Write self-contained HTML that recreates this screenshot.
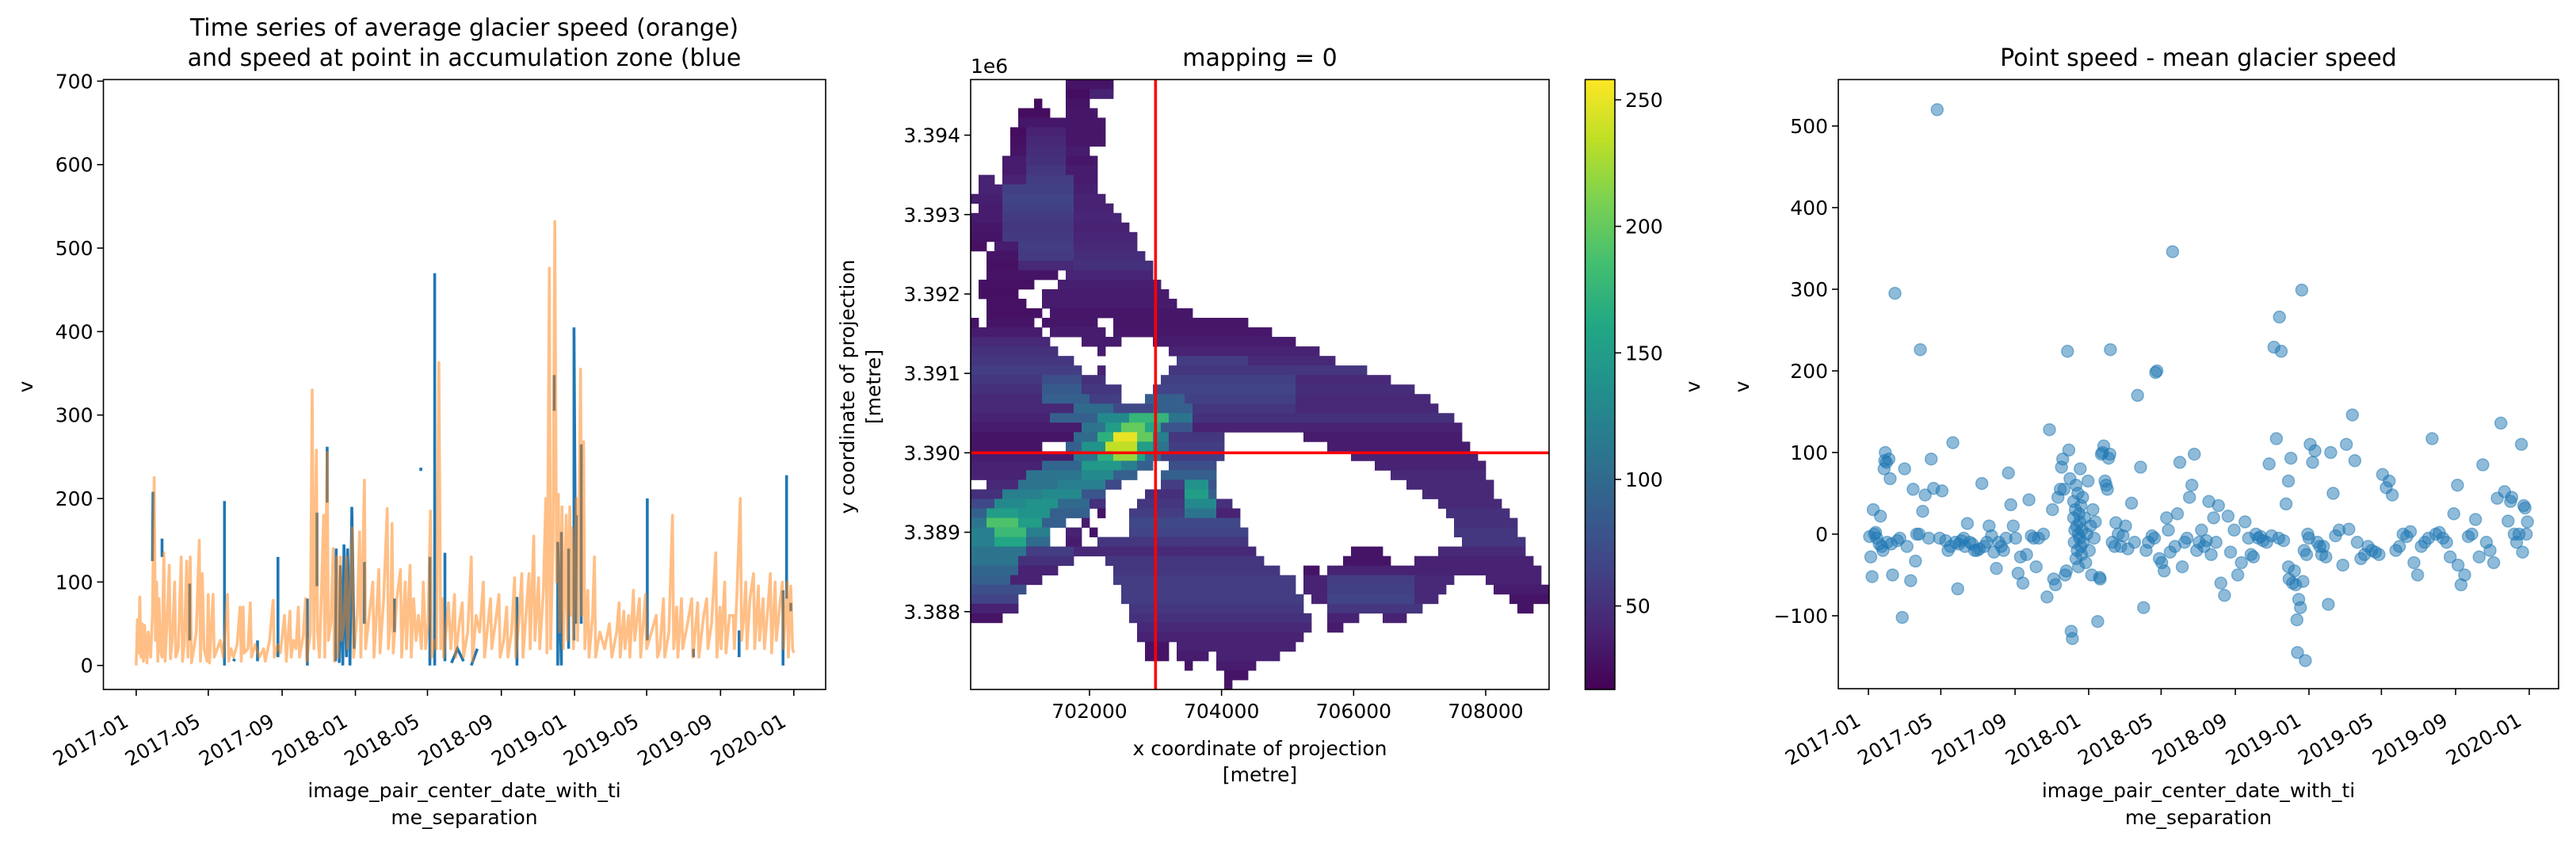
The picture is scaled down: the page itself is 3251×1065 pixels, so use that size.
<!DOCTYPE html>
<html><head><meta charset="utf-8"><style>
html,body{margin:0;padding:0;background:#fff}
svg{display:block;font-family:"DejaVu Sans","Liberation Sans",sans-serif}
</style></head><body>
<svg id="fig" xmlns="http://www.w3.org/2000/svg" width="3251" height="1065" viewBox="0 0 3251 1065">
<rect width="3251" height="1065" fill="#fff"/>
<g id="p1"></g>
<g id="p2"></g>
<g id="p3"></g>
</svg>
<script>
// ---------- data ----------
const dateTickLabels = ["2017-01","2017-05","2017-09","2018-01","2018-05","2018-09","2019-01","2019-05","2019-09","2020-01"];
const dateTickDays = [0,120,243,365,485,608,730,850,973,1095];
const p1YTicks = [0,100,200,300,400,500,600,700];
const orangeDays = [0,2,4,6,8,10,12,14,16,18,20,24,27,30,32,34,36,38,40,43,46,48,52,55,57,60,64,66,70,75,77,80,84,86,90,92,96,100,105,107,110,113,118,120,122,128,130,135,140,145,152,154,158,162,168,173,175,178,180,186,190,192,198,205,212,215,222,228,230,236,240,247,250,256,258,262,266,270,272,278,282,284,290,293,296,300,302,305,309,312,314,318,320,324,328,330,334,336,340,342,346,350,352,356,360,362,368,372,374,380,382,388,394,396,400,404,406,412,418,420,424,426,428,434,440,442,448,450,456,458,462,466,470,475,478,482,486,490,492,497,500,504,507,510,512,520,524,530,532,538,543,545,552,558,560,566,572,578,580,590,592,598,604,606,612,617,619,625,630,632,638,642,644,650,654,656,662,664,670,672,678,682,684,688,690,694,697,700,703,705,709,711,716,718,722,724,726,728,733,735,740,742,745,747,752,754,760,763,765,772,780,788,792,800,804,806,812,814,820,822,828,830,838,840,848,850,858,866,868,872,878,880,887,893,895,900,902,908,910,918,925,927,935,937,945,950,952,958,965,967,972,974,980,982,988,994,996,1000,1006,1008,1012,1015,1017,1022,1028,1030,1036,1038,1044,1046,1052,1056,1058,1064,1066,1072,1076,1078,1084,1086,1090,1093,1095];
const orangeVals = [0,55,15,82,10,50,5,48,20,3,40,10,60,225,30,100,5,80,20,10,135,5,60,120,8,30,100,10,20,130,5,25,125,10,130,3,20,40,150,5,110,20,5,85,3,85,10,20,30,10,85,5,20,10,25,70,5,70,15,20,75,10,25,10,20,5,30,78,10,25,15,60,5,65,10,30,20,70,10,35,80,5,40,330,20,258,40,10,100,180,10,255,30,50,140,5,130,10,130,30,50,130,20,90,165,10,60,160,10,222,20,60,100,10,60,115,15,80,188,20,60,170,15,80,115,10,100,20,120,10,80,30,60,20,100,20,50,185,10,30,20,363,20,80,10,75,20,85,10,50,75,10,40,130,5,60,40,100,10,80,20,50,85,10,30,70,10,40,105,10,60,110,10,70,110,20,155,30,105,20,90,200,15,476,20,150,532,100,205,40,190,20,180,30,190,60,165,20,200,30,355,60,268,20,90,10,60,130,10,40,20,50,10,40,75,10,65,20,60,10,90,30,80,10,85,20,40,60,10,20,80,10,40,180,20,70,10,80,20,50,80,10,75,10,60,80,20,50,135,10,70,20,100,15,60,60,20,80,200,30,60,100,20,80,110,20,95,30,80,20,70,110,15,100,30,75,100,20,100,10,95,20,15];
const blueDays = [27,28,null,43,43,null,89,89,null,147,147,null,162,164,null,202,202,null,236,236,null,285,285,null,301,301,null,318,318,null,332,333,null,338,340,344,346,350,352,356,359,363,null,380,380,null,430,430,null,474,474,null,489,489,null,497,497,null,514,514,null,525,535,545,null,558,568,null,634,634,null,696,696,null,702,702,708,708,null,720,720,null,729,729,732,733,null,741,741,null,851,851,null,928,928,null,1004,1004,null,1077,1077,null,1083,1083,null,1090,1090];
const blueVals = [125,208,null,130,152,null,30,98,null,0,197,null,5,8,null,5,30,null,10,130,null,0,80,null,95,183,null,195,262,null,5,140,null,3,120,0,145,10,140,0,190,20,null,50,124,null,40,80,null,233,237,null,0,130,null,0,470,null,5,135,null,3,20,5,null,0,20,null,0,82,null,305,348,null,0,148,0,160,null,20,140,null,30,405,50,180,null,50,265,null,30,200,null,10,20,null,10,42,null,0,90,null,80,228,null,65,75];

const hmXTicks = [702000,704000,706000,708000];
const hmYTicks = [3.388,3.389,3.390,3.391,3.392,3.393,3.394];
const cbTicks = [50,100,150,200,250];
const pointX = 703000, pointY = 3390000;
const hmRows = [
[[12,17,30]],[[12,14,25],[15,17,40]],[[8,8,25],[12,14,30]],[[6,9,25],[12,15,32]],[[6,16,32]],
[[5,6,25],[7,11,40],[12,16,32]],[[5,6,28],[7,11,45],[12,16,32]],[[5,6,30],[7,11,48],[12,14,35]],
[[4,6,35],[7,11,50],[12,15,32]],[[4,6,35],[7,11,55],[12,15,35]],[[1,2,40],[4,6,40],[7,12,60],[13,15,35]],
[[1,3,40],[4,12,62],[13,15,38]],[[0,3,38],[4,12,65],[13,16,40]],[[1,3,35],[4,12,62],[13,17,40]],
[[0,3,35],[4,12,58],[13,18,42]],[[0,3,32],[4,12,55],[13,19,40]],[[0,3,30],[4,12,58],[13,20,42]],
[[0,1,28],[3,5,35],[6,12,60],[13,20,45]],[[2,5,30],[6,12,58],[13,21,48]],[[2,5,28],[6,12,45],[13,22,50]],
[[2,10,30],[12,22,42]],[[1,7,28],[11,23,38]],[[1,5,28],[9,24,35]],[[2,6,28],[9,25,35]],[[2,8,28],[10,27,32]],
[[0,0,30],[2,7,30],[9,15,32],[18,34,32]],[[0,8,35],[10,16,35],[18,37,33]],[[0,9,45],[14,18,35],[23,40,35]],
[[0,10,50],[16,16,35],[25,43,40]],[[0,12,55],[26,34,60],[35,45,45]],[[0,13,60],[16,16,40],[25,49,55]],
[[0,8,55],[9,13,75],[14,16,50],[24,40,62],[41,52,45]],[[0,8,50],[9,13,85],[14,18,55],[23,40,65],[41,55,48]],
[[0,8,45],[9,14,90],[15,18,60],[22,26,90],[27,40,62],[41,57,45]],
[[0,12,45],[13,17,100],[18,22,70],[23,27,90],[28,40,55],[41,58,45]],
[[0,9,40],[10,15,90],[16,19,130],[20,24,175],[25,27,110],[28,60,50]],
[[0,13,35],[14,16,110],[17,18,150],[19,21,200],[22,23,160],[24,27,80],[28,61,40]],
[[0,12,30],[13,15,100],[16,17,170],[18,20,250],[21,22,200],[23,24,120],[25,31,55],[42,61,35]],
[[0,8,30],[12,13,90],[14,16,140],[17,20,235],[21,22,150],[23,24,110],[25,31,60],[45,62,35]],
[[0,12,35],[13,15,110],[16,17,170],[18,20,220],[21,21,160],[22,23,100],[24,31,60],[48,63,40]],
[[0,8,40],[9,13,95],[14,18,145],[19,20,120],[21,22,90],[25,30,75],[51,64,40]],
[[0,6,40],[7,13,110],[14,17,130],[18,20,90],[24,30,90],[53,64,45]],
[[2,5,45],[6,10,110],[11,16,120],[17,18,70],[24,26,60],[27,29,140],[30,30,80],[55,65,45]],
[[0,3,50],[4,8,120],[9,13,130],[14,16,80],[22,26,50],[27,29,150],[30,30,90],[57,65,45]],
[[0,2,70],[3,6,130],[7,10,140],[11,14,100],[15,16,50],[21,26,55],[27,30,130],[31,32,50],[59,66,45]],
[[0,1,90],[2,5,150],[6,9,140],[10,14,90],[16,16,30],[20,26,60],[27,30,110],[31,33,40],[60,67,50]],
[[0,1,110],[2,5,190],[6,8,150],[9,11,90],[14,14,35],[20,33,70],[61,68,50]],
[[0,2,120],[3,6,180],[7,9,120],[12,13,40],[15,15,30],[20,34,65],[61,68,55]],
[[0,2,120],[3,6,160],[7,9,100],[12,13,35],[16,34,55],[62,69,55]],
[[0,6,110],[7,12,60],[13,35,45],[48,51,30],[59,69,45]],
[[0,5,110],[6,12,50],[17,36,55],[47,52,30],[56,70,40]],
[[0,5,95],[6,10,40],[18,38,55],[42,43,30],[45,71,40]],
[[0,4,90],[5,8,40],[18,40,60],[42,44,40],[45,55,60],[56,60,45],[65,71,40]],
[[0,6,75],[19,40,60],[42,44,40],[45,55,62],[56,59,45],[66,72,35]],
[[0,5,65],[19,41,60],[43,44,40],[45,55,65],[56,58,45],[68,72,30]],
[[0,5,40],[20,41,55],[45,56,55],[69,70,30]],
[[0,3,30],[20,42,50],[45,48,40],[52,54,40]],
[[21,42,45],[45,46,35]],[[21,41,40]],[[22,24,30],[26,40,40]],[[22,24,30],[26,29,35],[31,38,40]],
[[27,27,30],[31,35,35]],[[32,34,30]],[[32,32,30]]
];

const p3YTicks = [-100,0,100,200,300,400,500];
const scatterDays = [2,4,6,8,10,12,14,18,20,22,24,26,27,28,30,31,34,36,38,40,44,48,52,56,60,64,70,74,78,80,84,86,90,94,100,104,108,114,118,122,128,132,136,140,144,148,150,154,158,160,164,168,172,176,180,184,188,192,196,200,204,208,212,216,220,224,228,232,236,240,244,248,252,256,262,266,270,274,278,282,290,296,300,305,307,310,314,318,320,322,324,326,328,330,332,334,336,338,340,340,341,342,343,344,344,345,346,347,348,348,349,350,350,351,352,352,353,354,355,356,358,360,362,364,366,368,370,372,374,376,380,383,384,386,388,390,392,394,396,398,400,401,404,408,410,414,418,422,426,430,436,441,446,451,456,460,464,470,474,476,478,482,486,490,494,497,500,504,508,512,516,520,524,528,532,536,540,544,548,552,556,560,564,568,572,576,580,584,590,596,600,606,612,618,624,630,634,638,642,646,650,654,660,664,668,672,676,680,681,684,688,692,696,696,697,700,703,706,708,710,711,713,716,718,720,722,724,726,728,730,732,736,740,744,748,751,754,758,762,766,770,774,780,786,792,796,802,806,810,816,822,828,834,840,846,852,858,863,868,874,880,886,892,898,904,910,916,922,928,934,940,946,952,958,964,970,976,977,982,988,994,1000,1006,1012,1018,1024,1030,1036,1042,1048,1054,1060,1064,1066,1070,1074,1078,1082,1084,1086,1088,1090,1092,1094];
const scatterVals = [-3,-28,-52,30,0,2,-5,-12,22,-15,-20,80,90,100,88,-10,92,68,-12,-50,295,-8,-5,-102,80,-15,-57,55,-33,0,0,226,28,48,-5,92,56,520,-5,53,-8,-20,-15,112,-10,-67,-12,-8,-5,-15,13,-10,-12,-20,-20,-18,62,-15,-10,10,-2,-22,-42,-10,-15,-20,-5,75,36,10,-5,-48,-28,-60,-25,42,-2,-5,-40,-5,0,-77,128,30,-55,-62,45,55,82,92,55,-50,-45,224,103,68,-119,-128,40,20,-10,5,30,-30,60,10,-20,50,0,-40,25,-5,15,80,-15,35,-25,5,45,-10,20,-35,0,65,-20,10,-50,30,-5,15,-107,-53,-55,98,100,108,65,60,55,93,98,226,-10,-15,14,0,-15,-2,10,-18,38,-10,170,82,-90,-20,-10,-2,-5,198,200,-30,-35,-45,20,5,-22,346,-15,25,88,-40,-10,-5,45,60,98,-20,-10,5,-15,-8,40,-25,20,-10,35,-60,-75,22,-22,5,-50,-35,15,-5,-25,-28,0,-5,-3,-8,-10,86,-2,229,117,-5,266,224,-8,37,-40,65,-55,93,-60,-45,-62,-105,-145,-80,-90,299,-58,-20,-155,-25,0,-5,110,88,102,-10,-15,-25,-15,-28,-86,100,50,-2,5,-38,110,6,146,90,-10,-30,-25,-15,-20,-22,-25,73,57,65,48,-20,-15,0,-3,3,-35,-50,-15,-10,-5,117,0,2,-5,-10,-28,25,60,-38,-62,-50,-3,0,18,-28,85,-10,-20,-35,44,136,52,16,40,45,0,-10,0,110,-22,35,32,0,15];

// ---------- helpers ----------
const NS = "http://www.w3.org/2000/svg";
function el(parent, tag, attrs, text){
  const e = document.createElementNS(NS, tag);
  for (const k in attrs) e.setAttribute(k, attrs[k]);
  if (text !== undefined) e.textContent = text;
  parent.appendChild(e);
  return e;
}
function lin(d0,d1,r0,r1){ return v => r0 + (v-d0)*(r1-r0)/(d1-d0); }
const TICKFONT = 25, TITLEFONT = 30;
const viridis = [[0,68,1,84],[0.1,72,36,117],[0.2,65,68,135],[0.3,53,95,141],[0.4,42,120,142],[0.5,33,145,140],[0.6,34,168,132],[0.7,68,191,112],[0.8,122,209,81],[0.9,189,223,38],[1,253,231,37]];
function vcol(t){
  t = Math.max(0, Math.min(1, t));
  for (let i=1;i<viridis.length;i++){
    if (t <= viridis[i][0]){
      const a = viridis[i-1], b = viridis[i], f = (t-a[0])/(b[0]-a[0]);
      return `rgb(${Math.round(a[1]+f*(b[1]-a[1]))},${Math.round(a[2]+f*(b[2]-a[2]))},${Math.round(a[3]+f*(b[3]-a[3]))})`;
    }
  }
  return "rgb(253,231,37)";
}
function frame(g, L, T, R, B){
  const f = el(g, "rect", {x:L, y:T, width:R-L, height:B-T, fill:"none", stroke:"#000", "stroke-width":1.6});
  
  
}
function yTicks(g, ticks, Y, L, fmt){
  ticks.forEach(v => {
    const y = Y(v);
    const t = el(g, "line", {x1:L-8, x2:L, y1:y, y2:y, stroke:"#000", "stroke-width":1.6});
    
    
    const s = el(g, "text", {x:L-13, y:y+9, "text-anchor":"end", "font-size":TICKFONT}, fmt(v));
    
    
  });
}
function dateTicks(g, X, B){
  dateTickDays.forEach((d,i) => {
    const x = X(d);
    const t = el(g, "line", {x1:x, x2:x, y1:B, y2:B+8, stroke:"#000", "stroke-width":1.6});
    
    
    const s = el(g, "text", {transform:`translate(${x-8},${B+45}) rotate(-30)`, "text-anchor":"end", "font-size":TICKFONT}, dateTickLabels[i]);
    
    
  });
}
function text(g, x, y, s, size, name, extra){
  const a = Object.assign({x:x, y:y, "text-anchor":"middle", "font-size":size}, extra||{});
  const t = el(g, "text", a, s);
  
  
  return t;
}

// ---------- panel 1 ----------
(function(){
  const g = document.getElementById("p1");
  const L=130.5, R=1042, T=100.4, B=870;
  const X = lin(0,1095,171.9,1001.8);
  const Y = lin(0,700,839.7,102.4);
  const cp = el(g,"clipPath",{id:"c1"});
  el(cp,"rect",{x:L,y:T,width:R-L,height:B-T});
  let d = "", pen = false;
  for (let i=0;i<blueDays.length;i++){
    if (blueDays[i]===null || blueVals[i]===null){ pen=false; continue; }
    d += (pen?"L":"M") + X(blueDays[i]).toFixed(1) + " " + Y(blueVals[i]).toFixed(1) + " ";
    pen = true;
  }
  const b = el(g,"path",{d:d, fill:"none", stroke:"#1f77b4", "stroke-width":3.6, "clip-path":"url(#c1)"});
  
  
  let od = "";
  orangeDays.forEach((dd,i)=>{ od += (i?"L":"M") + X(dd).toFixed(1) + " " + Y(orangeVals[i]).toFixed(1) + " "; });
  const o = el(g,"path",{d:od, fill:"none", stroke:"#ff7f0e", "stroke-opacity":0.5, "stroke-width":3.6, "stroke-linejoin":"round", "clip-path":"url(#c1)"});
  
  
  frame(g,L,T,R,B);
  yTicks(g,p1YTicks,Y,L,v=>String(v));
  dateTicks(g,X,B);
  text(g,32,488,"v",TICKFONT,"y-axis-title",{transform:"rotate(-90 32 488)", dy:"9"});
  text(g,586,1006,"image_pair_center_date_with_ti",TICKFONT,"x-axis-title");
  text(g,586,1040,"me_separation",TICKFONT,"x-axis-title-line2");
  text(g,586,45,"Time series of average glacier speed (orange)",TITLEFONT,"chart-title");
  text(g,586,83," and speed at point in accumulation zone (blue",TITLEFONT,"chart-title-line2",{"xml:space":"preserve"});
})();

// ---------- panel 2 ----------
(function(){
  const g = document.getElementById("p2");
  const L=1225, R=1955, T=100.4, B=870;
  const xmin=700200, xmax=708960, ymin=3387020, ymax=3394700;
  const X = lin(xmin,xmax,L,R);
  const Y = lin(ymin,ymax,B,T);
  const vmin=17, vmax=258;
  const cw = X(xmin+120)-X(xmin), ch = Y(ymax-120)-Y(ymax);
  hmRows.forEach((segs,r)=>{
    segs.forEach(s=>{
      for (let c=s[0]; c<=s[1]; c++){
        const cell = el(g,"rect",{x:X(xmin+120*c).toFixed(2), y:Y(ymax-120*r).toFixed(2), width:(cw+0.4).toFixed(2), height:(ch+0.4).toFixed(2), fill:vcol((s[2]-vmin)/(vmax-vmin))});
        
        
      }
    });
  });
  const vl = el(g,"line",{x1:X(pointX),x2:X(pointX),y1:T,y2:B,stroke:"#ff0000","stroke-width":3.6});
  
  
  const hl = el(g,"line",{x1:L,x2:R,y1:Y(pointY),y2:Y(pointY),stroke:"#ff0000","stroke-width":3.6});
  
  
  frame(g,L,T,R,B);
  hmXTicks.forEach(v=>{
    const x=X(v);
    const t=el(g,"line",{x1:x,x2:x,y1:B,y2:B+8,stroke:"#000","stroke-width":1.6});
    
    
    text(g,x,B+36,String(v),TICKFONT,"x-tick-label");
  });
  yTicks(g,hmYTicks,v=>Y(v*1e6),L,v=>v.toFixed(3));
  text(g,L,92,"1e6",TICKFONT,"y-offset-label",{"text-anchor":"start"});
  text(g,1590,83,"mapping = 0",TITLEFONT,"chart-title");
  text(g,1590,953,"x coordinate of projection",TICKFONT,"x-axis-title");
  text(g,1590,986,"[metre]",TICKFONT,"x-axis-title-line2");
  text(g,1078,488,"y coordinate of projection",TICKFONT,"y-axis-title",{transform:"rotate(-90 1078 488)"});
  text(g,1111,488,"[metre]",TICKFONT,"y-axis-title-line2",{transform:"rotate(-90 1111 488)"});
  const cL=2000.5, cR=2038;
  const CY = lin(vmin,vmax,B,T);
  const defs = el(g,"defs",{});
  const lg = el(defs,"linearGradient",{id:"vir",x1:"0",y1:"1",x2:"0",y2:"0"});
  viridis.forEach(s=>el(lg,"stop",{offset:s[0],"stop-color":`rgb(${s[1]},${s[2]},${s[3]})`}));
  const cb = el(g,"rect",{x:cL,y:T,width:cR-cL,height:B-T,fill:"url(#vir)",stroke:"#000","stroke-width":1.6});
  
  
  cbTicks.forEach(v=>{
    const y=CY(v);
    const t=el(g,"line",{x1:cR,x2:cR+8,y1:y,y2:y,stroke:"#000","stroke-width":1.6});
    
    
    text(g,cR+13,y+9,String(v),TICKFONT,"colorbar-tick-label",{"text-anchor":"start"});
  });
  text(g,2136,488,"v",TICKFONT,"colorbar-title",{transform:"rotate(-90 2136 488)",dy:"9"});
})();

// ---------- panel 3 ----------
(function(){
  const g = document.getElementById("p3");
  const L=2320, R=3229, T=100.4, B=869;
  const X = lin(0,1095,2358,3192);
  const Y = lin(0,100,674,571);
  const cp = el(g,"clipPath",{id:"c3"});
  el(cp,"rect",{x:L,y:T,width:R-L,height:B-T});
  const pts = el(g,"g",{"clip-path":"url(#c3)"});
  
  
  scatterDays.forEach((d,i)=>{
    const c = el(pts,"circle",{cx:X(d).toFixed(1),cy:Y(scatterVals[i]).toFixed(1),r:7.5,fill:"#1f77b4","fill-opacity":0.5,stroke:"#1f77b4","stroke-opacity":0.5,"stroke-width":1.5});
    
    
  });
  frame(g,L,T,R,B);
  yTicks(g,p3YTicks,Y,L,v=>v<0?"\u2212"+Math.abs(v):String(v));
  dateTicks(g,X,B);
  text(g,2198,488,"v",TICKFONT,"y-axis-title",{transform:"rotate(-90 2198 488)",dy:"9"});
  text(g,2774.5,1006,"image_pair_center_date_with_ti",TICKFONT,"x-axis-title");
  text(g,2774.5,1040,"me_separation",TICKFONT,"x-axis-title-line2");
  text(g,2774.5,83,"Point speed - mean glacier speed",TITLEFONT,"chart-title");
})();
</script>
</body></html>
